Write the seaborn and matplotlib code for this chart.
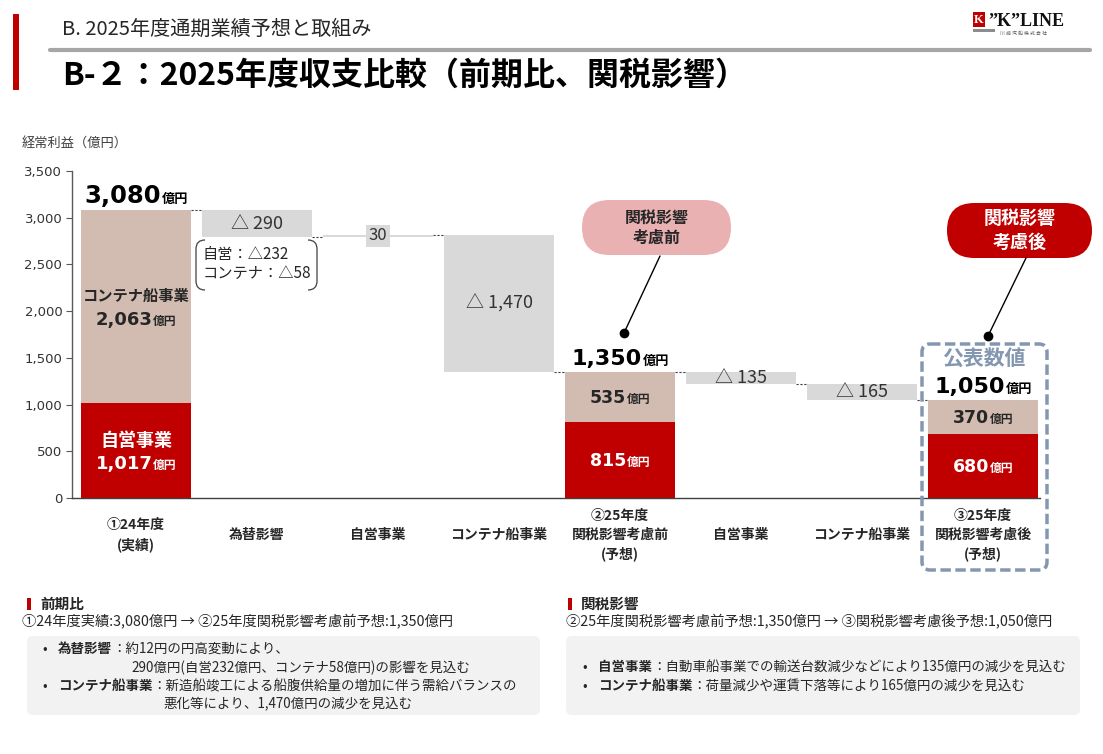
import matplotlib
matplotlib.use("Agg")
import matplotlib.pyplot as plt
import matplotlib.transforms as mtransforms
from matplotlib.patches import FancyBboxPatch, Rectangle, PathPatch
from matplotlib.path import Path
from matplotlib.lines import Line2D
from matplotlib.ticker import StrMethodFormatter
import numpy as np
import pandas as pd
import seaborn as sns

# ---- data (億円) ----
categories = ["①24年度\n(実績)", "為替影響", "自営事業", "コンテナ船事業",
              "②25年度\n関税影響考慮前\n(予想)", "自営事業", "コンテナ船事業",
              "③25年度\n関税影響考慮後\n(予想)"]
total_pos = [0, 4, 7]
own_values = [1017, 815, 680]          # 自営事業
container_values = [2063, 535, 370]    # コンテナ船事業
step_pos = [1, 2, 3, 5, 6]
step_values = [-290, 30, -1470, -135, -165]
step_labels = ["△ 290", "30", "△ 1,470", "△ 135", "△ 165"]
fx_breakdown = ["自営：△232", "コンテナ：△58"]
yticks = [0, 500, 1000, 1500, 2000, 2500, 3000, 3500]

RED = "#C00000"
TAN = "#D2BCB1"
GRAY = "#D9D9D9"
PINK = "#EAB1B3"
BLUE = "#8497B0"
DARK = "#262626"
BAR_W = 0.91
JP = ["Noto Sans CJK JP", "DejaVu Sans"]
NUM = ["DejaVu Sans", "Noto Sans CJK JP"]

sns.set_theme(style="white")
plt.rcParams["font.family"] = JP

W, H = 1103, 754
fig = plt.figure(figsize=(W / 100, H / 100), dpi=100)
px = mtransforms.Affine2D().scale(1 / W, -1 / H).translate(0, 1) + fig.transFigure
ax = fig.add_axes([72 / W, 1 - 498 / H, (1040 - 72) / W, (498 - 171) / H])

# ---- bars ----
keys = [str(i) for i in range(len(categories))]
totals = [a + b for a, b in zip(own_values, container_values)]
df_tot = pd.DataFrame({"key": [keys[i] for i in total_pos],
                       "total": totals, "own": own_values})
sns.barplot(data=df_tot, x="key", y="total", order=keys, color=TAN, saturation=1,
            width=BAR_W, errorbar=None, linewidth=0, ax=ax)
sns.barplot(data=df_tot, x="key", y="own", order=keys, color=RED, saturation=1,
            width=BAR_W, errorbar=None, linewidth=0, ax=ax)

# running level of the waterfall
level_after = []
cur = 0
t_iter = iter(totals)
s_iter = iter(step_values)
step_before, step_after = [], []
for i in range(len(categories)):
    if i in total_pos:
        cur = next(t_iter)
    else:
        v = next(s_iter)
        step_before.append(cur)
        cur = cur + v
        step_after.append(cur)
    level_after.append(cur)
step_before = np.array(step_before)
step_after = np.array(step_after)
ax.bar(step_pos, np.abs(step_values), bottom=np.minimum(step_before, step_after),
       width=BAR_W, color=GRAY, linewidth=0)

# connectors
for i in range(len(categories) - 1):
    ax.plot([i + BAR_W / 2, i + 1 - BAR_W / 2], [level_after[i]] * 2,
            color="#404040", lw=0.8, ls=(0, (2, 1.5)), clip_on=False)

# ---- axes style ----
ax.set_xlim(-0.529, 7.471)
ax.set_ylim(0, 3500)
ax.set_yticks(yticks)
ax.yaxis.set_major_formatter(StrMethodFormatter("{x:,.0f}"))
ax.set_xlabel("")
ax.set_ylabel("")
for s in ["top", "right"]:
    ax.spines[s].set_visible(False)
ax.spines["left"].set_color("#595959")
ax.spines["bottom"].set_color("#404040")
ax.spines["left"].set_linewidth(1)
ax.spines["bottom"].set_linewidth(1)
ax.tick_params(axis="y", length=4, width=0.8, color="#595959", labelsize=9.5,
               labelcolor="#333333", pad=3, left=True)
for lbl in ax.get_yticklabels():
    lbl.set_fontfamily(NUM)
ax.set_xticks(range(len(categories)))
ax.set_xticklabels(categories, fontsize=10, fontweight="bold", color=DARK, linespacing=1.4)
ax.tick_params(axis="x", length=0, pad=26.6)
for lbl in ax.get_xticklabels():
    lbl.set_verticalalignment("center")


def value_label(x, y, num, size, unit_size, color, dy):
    t = ax.annotate(num, (x, y), xytext=(-unit_size, dy), textcoords="offset points",
                    ha="center", va="baseline", fontsize=size, fontweight="bold",
                    color=color, family=NUM, annotation_clip=False)
    ax.annotate("億円", xy=(1, y), xycoords=(t, "data"), xytext=(0.5, dy),
                textcoords="offset points", ha="left", va="baseline",
                fontsize=unit_size, fontweight="bold", color=color, family=JP,
                annotation_clip=False)


# totals on top
top_sizes = [17.5, 16, 16]
for p, tot, sz in zip(total_pos, totals, top_sizes):
    value_label(p, tot, f"{tot:,}", sz, 9.5, "black", 5)

# inside first bar (with names)
p0 = total_pos[0]
mid_c = own_values[0] + container_values[0] / 2
mid_o = own_values[0] / 2
ax.annotate("コンテナ船事業", (p0, mid_c), xytext=(0, 7.5), textcoords="offset points",
            ha="center", va="center", fontsize=11, fontweight="bold", color=DARK)
value_label(p0, mid_c, f"{container_values[0]:,}", 13, 8.5, DARK, -13.5)
ax.annotate("自営事業", (p0, mid_o), xytext=(0, 7.5), textcoords="offset points",
            ha="center", va="center", fontsize=13, fontweight="bold", color="white")
value_label(p0, mid_o, f"{own_values[0]:,}", 13, 8.5, "white", -13.5)

# other stacked bars
for p, o, c in zip(total_pos[1:], own_values[1:], container_values[1:]):
    value_label(p, o + c / 2, f"{c:,}", 12.5, 8.5, DARK, -4.5)
    value_label(p, o / 2, f"{o:,}", 12.5, 8.5, "white", -4.5)

# step labels
for p, b, a, lab in zip(step_pos, step_before, step_after, step_labels):
    boxed = abs(a - b) < 100
    ax.text(p, (a + b) / 2, lab, ha="center", va="center",
            fontsize=12 if lab == "30" else 13, color="#333333",
            bbox=dict(boxstyle="square,pad=0.15", fc=GRAY, ec="none") if boxed else None)

# FX breakdown bracket
x0, y0, x1, y1, r = 196, 240, 317, 290, 9
for xa, sgn in [(x0, 1), (x1, -1)]:
    verts = [(xa + sgn * r, y0), (xa, y0), (xa, y0 + r), (xa, y1 - r), (xa, y1), (xa + sgn * r, y1)]
    codes = [Path.MOVETO, Path.CURVE3, Path.CURVE3, Path.LINETO, Path.CURVE3, Path.CURVE3]
    fig.add_artist(PathPatch(Path(verts, codes), transform=px, fc="none", ec="#404040", lw=0.9))
for k, line in enumerate(fx_breakdown):
    fig.text(203, 255 + 19 * k, line, transform=px, fontsize=11, color=DARK,
             ha="left", va="center")

# callouts
callouts = [((582, 200, 149, 55), PINK, DARK, 11.5, (660, 256), (624, 333), "関税影響\n考慮前"),
            ((947, 203, 145, 55), RED, "white", 13, (1026, 258), (988, 336), "関税影響\n考慮後")]
for (bx, by, bw, bh), fc, tc, fs, ltop, dot, txt in callouts:
    fig.add_artist(FancyBboxPatch((bx, by), bw, bh, boxstyle=f"round,pad=0,rounding_size={bh / 2}",
                                  transform=px, fc=fc, ec="none"))
    fig.text(bx + bw / 2, by + bh / 2, txt, transform=px, ha="center", va="center",
             fontsize=fs, fontweight="bold", color=tc, linespacing=1.3)
    fig.add_artist(Line2D([ltop[0], dot[0]], [ltop[1], dot[1]], transform=px, color="black", lw=1))
    fig.add_artist(Line2D([dot[0]], [dot[1]], transform=px, marker="o", ms=6, color="black"))

# published figure frame
fig.add_artist(FancyBboxPatch((922, 344), 125, 226, boxstyle="round,pad=0,rounding_size=8",
                              transform=px, fc="none", ec=BLUE, lw=2.5, ls=(0, (3, 1.3))))
fig.text(984, 358, "公表数値", transform=px, ha="center", va="center", fontsize=15,
         fontweight="bold", color=BLUE)

# ---- header ----
fig.add_artist(Rectangle((13, 14), 6, 76, transform=px, color=RED, lw=0))
fig.text(62, 29, "B. 2025年度通期業績予想と取組み", transform=px, fontsize=14.5,
         color=DARK, va="center")
fig.add_artist(Line2D([50, 1090], [49.5, 49.5], transform=px, lw=3, color="#A6A6A6"))
fig.text(62, 76, "B-２：2025年度収支比較（前期比、関税影響）", transform=px, fontsize=23,
         fontweight="bold", color="black", va="center")
fig.add_artist(Rectangle((973, 12), 12, 15, transform=px, color=RED, lw=0))
fig.text(979, 20, "K", transform=px, ha="center", va="center", fontsize=9,
         fontweight="bold", color="white", family="Liberation Serif")
fig.text(988, 21, "\u201dK\u201dLINE", transform=px, ha="left", va="center", fontsize=13,
         fontweight="bold", color="#111111", family="Liberation Serif")
fig.add_artist(Rectangle((973, 29), 22, 3, transform=px, color="#8C8C8C", lw=0))
fig.text(1000, 33, "川 崎 汽 船 株 式 会 社", transform=px, ha="left", va="center",
         fontsize=3.5, color="#555555")
fig.text(22, 143, "経常利益（億円）", transform=px, fontsize=9.5, color="#404040", va="center")

# ---- footer notes ----
def rich(x, y, parts, size=9.7):
    prev = fig.text(x, y, parts[0][0], transform=px, fontsize=size, fontweight=parts[0][1],
                    color=DARK, va="center", ha="left")
    for txt, wt in parts[1:]:
        prev = ax.annotate(txt, xy=(1, 0.5), xycoords=prev, ha="left", va="center",
                           fontsize=size, fontweight=wt, color=DARK, annotation_clip=False)


for (hx, title, summary, box) in [
        (27, "前期比", "①24年度実績:3,080億円 → ②25年度関税影響考慮前予想:1,350億円", (27, 636, 513, 79)),
        (568, "関税影響", "②25年度関税影響考慮前予想:1,350億円 → ③関税影響考慮後予想:1,050億円", (566, 636, 514, 79))]:
    fig.add_artist(Rectangle((hx, 598), 4, 12, transform=px, color=RED, lw=0))
    fig.text(hx + 13, 604, title, transform=px, fontsize=10.5, fontweight="bold", color=DARK, va="center")
    fig.text(hx - 5 if hx == 27 else hx - 2, 622, summary, transform=px, fontsize=10.3, color=DARK, va="center")
    bx, by, bw, bh = box
    fig.add_artist(FancyBboxPatch((bx, by), bw, bh, boxstyle="round,pad=0,rounding_size=6",
                                  transform=px, fc="#F2F2F2", ec="none", zorder=0))

fig.text(42, 649, "•", transform=px, fontsize=9.7, color=DARK, va="center")
rich(58, 649, [("為替影響", "bold"), ("：約12円の円高変動により、", "normal")])
fig.text(131, 668, "290億円(自営232億円、コンテナ58億円)の影響を見込む", transform=px,
         fontsize=9.7, color=DARK, va="center")
fig.text(42, 686, "•", transform=px, fontsize=9.7, color=DARK, va="center")
rich(58, 686, [("コンテナ船事業", "bold"), ("：新造船竣工による船腹供給量の増加に伴う需給バランスの", "normal")])
fig.text(163, 704, "悪化等により、1,470億円の減少を見込む", transform=px,
         fontsize=9.7, color=DARK, va="center")
fig.text(582, 667, "•", transform=px, fontsize=9.7, color=DARK, va="center")
rich(598, 667, [("自営事業", "bold"), ("：自動車船事業での輸送台数減少などにより135億円の減少を見込む", "normal")])
fig.text(582, 686, "•", transform=px, fontsize=9.7, color=DARK, va="center")
rich(598, 686, [("コンテナ船事業", "bold"), ("：荷量減少や運賃下落等により165億円の減少を見込む", "normal")])

fig.savefig("out.png", dpi=100, facecolor="white")
